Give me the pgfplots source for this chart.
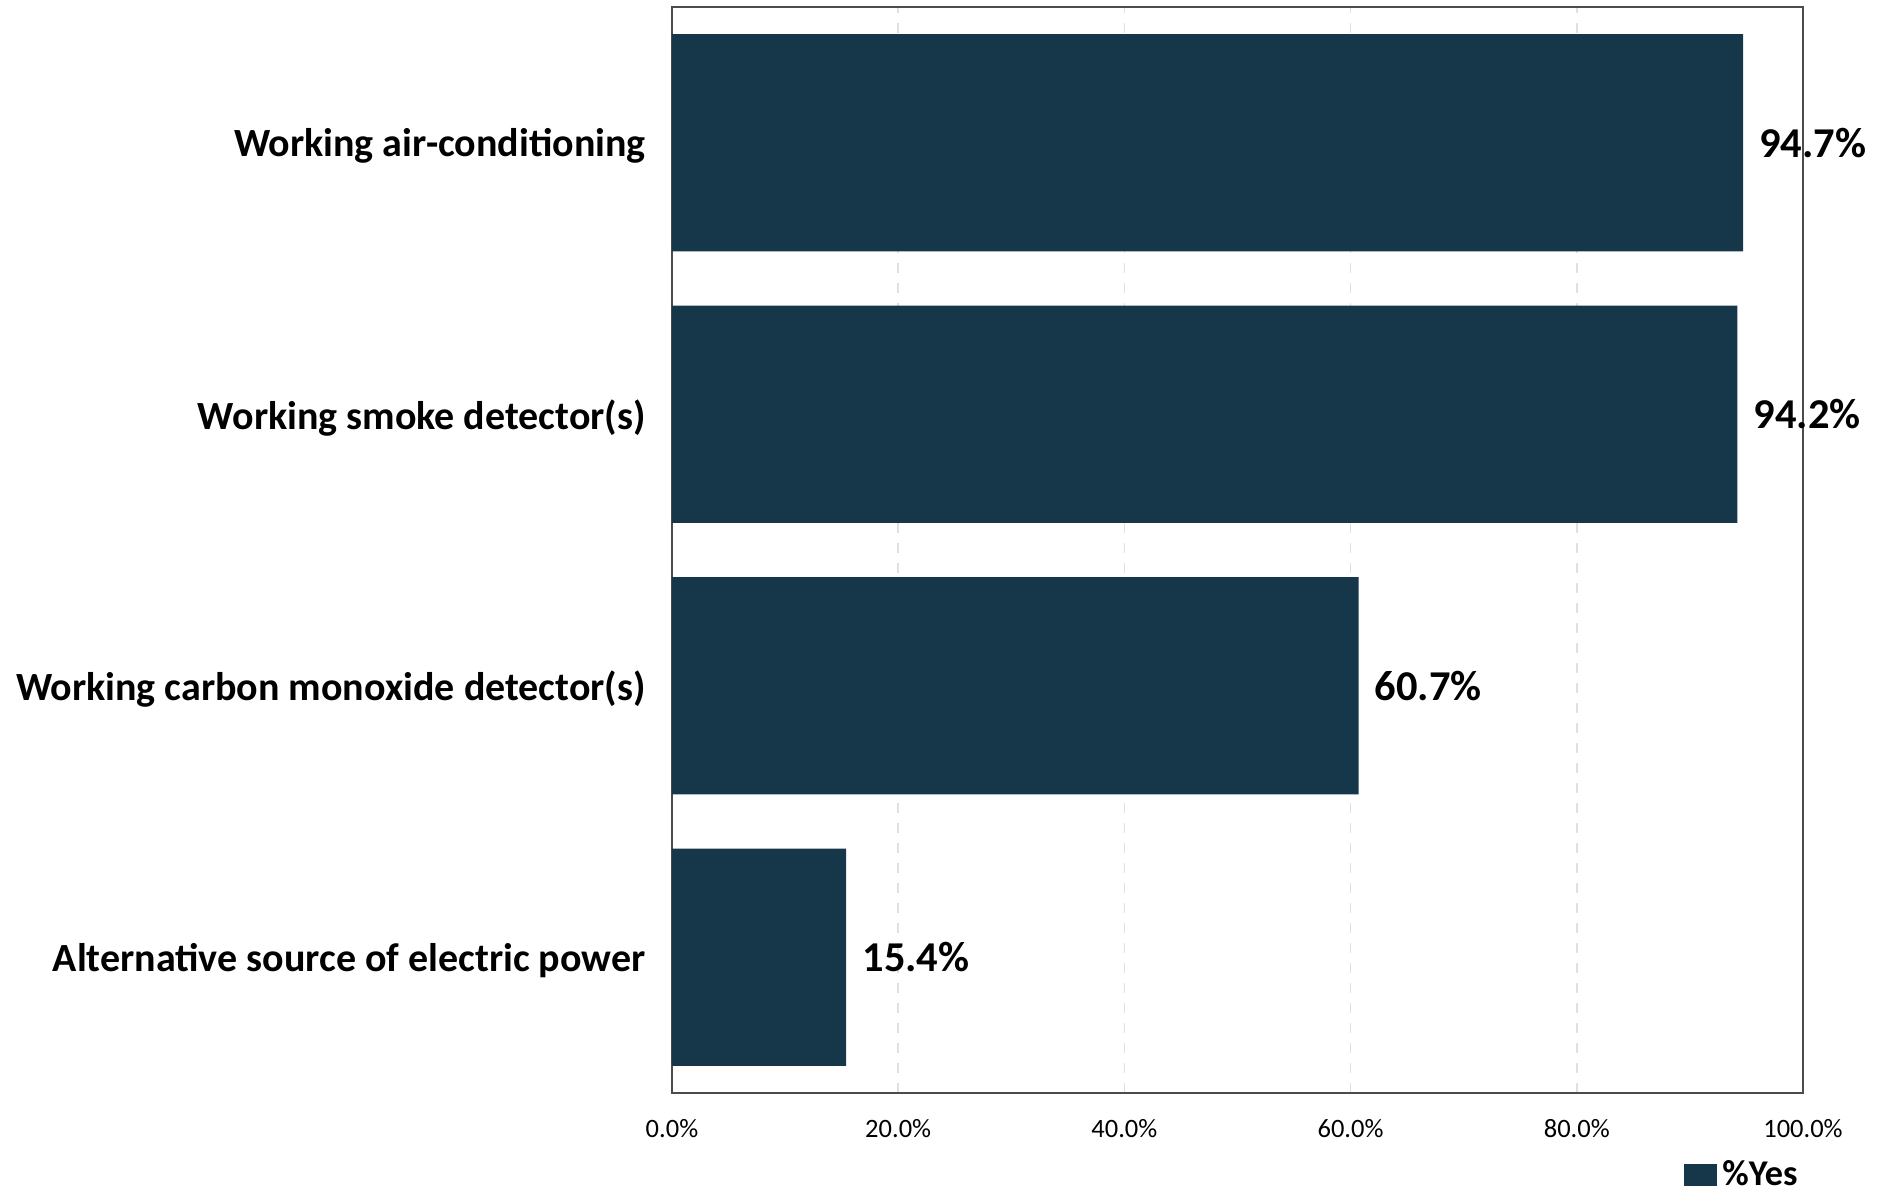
\documentclass[border=0pt]{standalone}
\usepackage{pgfplots}
\pgfplotsset{compat=1.18}
\usepackage{fontspec}
\setmainfont{Carlito}
\definecolor{barcol}{RGB}{22,54,74}
\begin{document}
\begin{tikzpicture}
\begin{axis}[
  scale only axis,
  width=452.4pt, height=434.4pt,
  xbar, bar width=0.8,
  xmin=0, xmax=100, ymin=0.5, ymax=4.5,
  xtick={0,20,40,60,80,100},
  xticklabels={0.0\%,20.0\%,40.0\%,60.0\%,80.0\%,100.0\%},
  ytick={1,2,3,4},
  yticklabels={Alternative source of electric power,Working carbon monoxide detector(s),Working smoke detector(s),Working air-conditioning},
  major tick length=0pt,
  xmajorgrids, ymajorgrids=false,
  major grid style={draw=black!12, dashed, line width=0.6pt, dash pattern=on 4pt off 4pt},
  axis line style={draw=black!70, line width=0.5pt},
  tick label style={/pgf/number format/assume math mode=true},
  xticklabel style={font=\fontsize{10.6}{12}\selectfont, yshift=-7pt},
  yticklabel style={font=\fontsize{16}{19}\selectfont\bfseries, xshift=-7pt, yshift=-1.4pt},
  nodes near coords,
  nodes near coords align=horizontal,
  point meta=explicit symbolic,
  every node near coord/.append style={font=\fontsize{17}{20}\selectfont\bfseries, black, anchor=west, xshift=3pt},
  legend style={at={(1,0)}, anchor=north east, yshift=-25pt, draw=none, fill=none,
    font=\fontsize{14.5}{17}\selectfont\bfseries, inner sep=0pt},
  legend image code/.code={\fill[barcol] (0pt,-4.4pt) rectangle (13.5pt,4.4pt);},
  clip=false,
]
\addplot[fill=barcol, draw=none] coordinates {
  (15.4,1) [15.4\%]
  (60.7,2) [60.7\%]
  (94.2,3) [94.2\%]
  (94.7,4) [94.7\%]
};
\addlegendentry{\%Yes}
\coordinate (sw) at (rel axis cs:0,0);
\coordinate (ne) at (rel axis cs:1,1);
\end{axis}
\pgfresetboundingbox
\useasboundingbox ([shift={(-268.8pt,-41.2pt)}]sw) rectangle ([shift={(34.4pt,2.8pt)}]ne);
\end{tikzpicture}
\end{document}
